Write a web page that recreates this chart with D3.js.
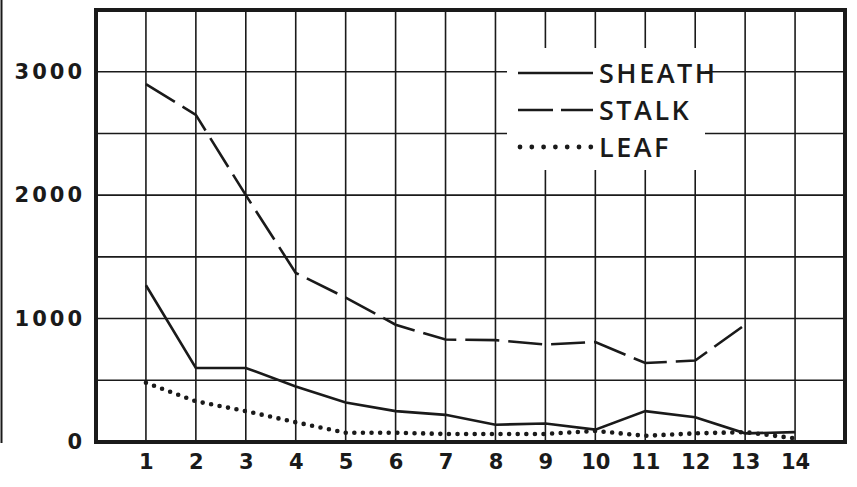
<html>
<head>
<meta charset="UTF-8">
<script src="https://d3js.org/d3.v7.min.js"></script>
<style>
    body { margin: 0; background: #fff; }
</style>
</head>
<body>
</body>
<script>
    // data
    var days = [1, 2, 3, 4, 5, 6, 7, 8, 9, 10, 11, 12, 13, 14];
    var sheath = [1270, 600, 600, 450, 320, 250, 220, 140, 150, 100, 250, 200, 70, 80];
    var stalk = [2900, 2650, 2000, 1370, 1170, 950, 830, 825, 790, 810, 640, 660, 950];
    var leaf = [480, 330, 250, 160, 75, 75, 65, 65, 65, 90, 50, 70, 80, 30];
    var yTicks = [0, 1000, 2000, 3000];
    var yGrid = [500, 1000, 1500, 2000, 2500, 3000];
    var legendNames = ["SHEATH", "STALK", "LEAF"];

    var ink = "#1a1a1a";
    var margin = { top: 10, right: 12, bottom: 45, left: 96 },
        width = 857 - margin.left - margin.right,
        height = 487 - margin.top - margin.bottom;

    var root = d3.select("body").append("svg")
        .attr("width", 857)
        .attr("height", 487);

    // scan edge on the far left
    root.append("line")
        .attr("x1", 1.5).attr("x2", 1.5)
        .attr("y1", 0).attr("y2", 443)
        .style("stroke", ink).style("stroke-width", 2);

    var svg = root.append("g")
        .attr("transform", "translate(" + margin.left + "," + margin.top + ")");

    var x = d3.scaleLinear().domain([0, 15]).range([0, width]);
    var y = d3.scaleLinear().domain([0, 3500]).range([height, 0]);

    // grid
    svg.selectAll(".hgrid").data(yGrid).enter().append("line")
        .attr("x1", 0).attr("x2", width)
        .attr("y1", d => y(d)).attr("y2", d => y(d))
        .style("stroke", ink).style("stroke-width", 1.6);
    svg.selectAll(".vgrid").data(days).enter().append("line")
        .attr("x1", d => x(d)).attr("x2", d => x(d))
        .attr("y1", 0).attr("y2", height)
        .style("stroke", ink).style("stroke-width", 1.6);

    // legend patch covers the grid
    svg.append("rect")
        .attr("x", 411).attr("y", 38)
        .attr("width", 198).attr("height", 122)
        .style("fill", "#fff");

    // frame
    svg.append("rect")
        .attr("x", 0).attr("y", 0)
        .attr("width", width).attr("height", height)
        .style("fill", "none").style("stroke", ink).style("stroke-width", 4);

    // series
    var line = d3.line()
        .x((d, i) => x(days[i]))
        .y(d => y(d));

    svg.append("path").datum(sheath)
        .attr("d", line)
        .style("fill", "none").style("stroke", ink).style("stroke-width", 2.6);

    svg.append("path").datum(stalk)
        .attr("d", line)
        .style("fill", "none").style("stroke", ink).style("stroke-width", 2.6)
        .style("stroke-dasharray", "34 9");

    svg.append("path").datum(leaf)
        .attr("d", line)
        .style("fill", "none").style("stroke", ink).style("stroke-width", 4.6)
        .style("stroke-linecap", "round")
        .style("stroke-dasharray", "0 8.6");

    // axes
    var yAxis = svg.append("g")
        .call(d3.axisLeft(y).tickValues(yTicks).tickFormat(d3.format("d")).tickSize(0).tickPadding(11));
    yAxis.select(".domain").remove();
    yAxis.selectAll("text")
        .style("font-family", "DejaVu Sans")
        .style("font-weight", "bold")
        .style("font-size", "21px")
        .style("letter-spacing", "3px")
        .style("fill", ink);

    var xAxis = svg.append("g")
        .attr("transform", "translate(0," + height + ")")
        .call(d3.axisBottom(x).tickValues(days).tickSize(0).tickPadding(12));
    xAxis.select(".domain").remove();
    xAxis.selectAll("text")
        .style("font-family", "DejaVu Sans")
        .style("font-weight", "bold")
        .style("font-size", "21px")
        .style("fill", ink);

    // legend
    var lg = svg.selectAll(".legend").data(legendNames).enter().append("g")
        .attr("transform", (d, i) => "translate(422," + (63 + 37 * i) + ")");

    lg.append("line")
        .attr("x1", (d, i) => i == 2 ? 2 : 0).attr("x2", 75)
        .attr("y1", 0).attr("y2", 0)
        .style("stroke", ink)
        .style("stroke-width", (d, i) => i == 2 ? 4.8 : 2.6)
        .style("stroke-linecap", (d, i) => i == 2 ? "round" : "butt")
        .style("stroke-dasharray", (d, i) => i == 0 ? null : (i == 1 ? "35 8" : "0 11.8"));

    lg.append("text")
        .attr("x", 81)
        .attr("y", 0)
        .attr("dy", "0.36em")
        .text(d => d)
        .style("font-family", "Open Sans")
        .style("font-weight", 600)
        .style("font-size", "27px")
        .style("letter-spacing", "2.5px")
        .style("fill", ink);
</script>
</html>
